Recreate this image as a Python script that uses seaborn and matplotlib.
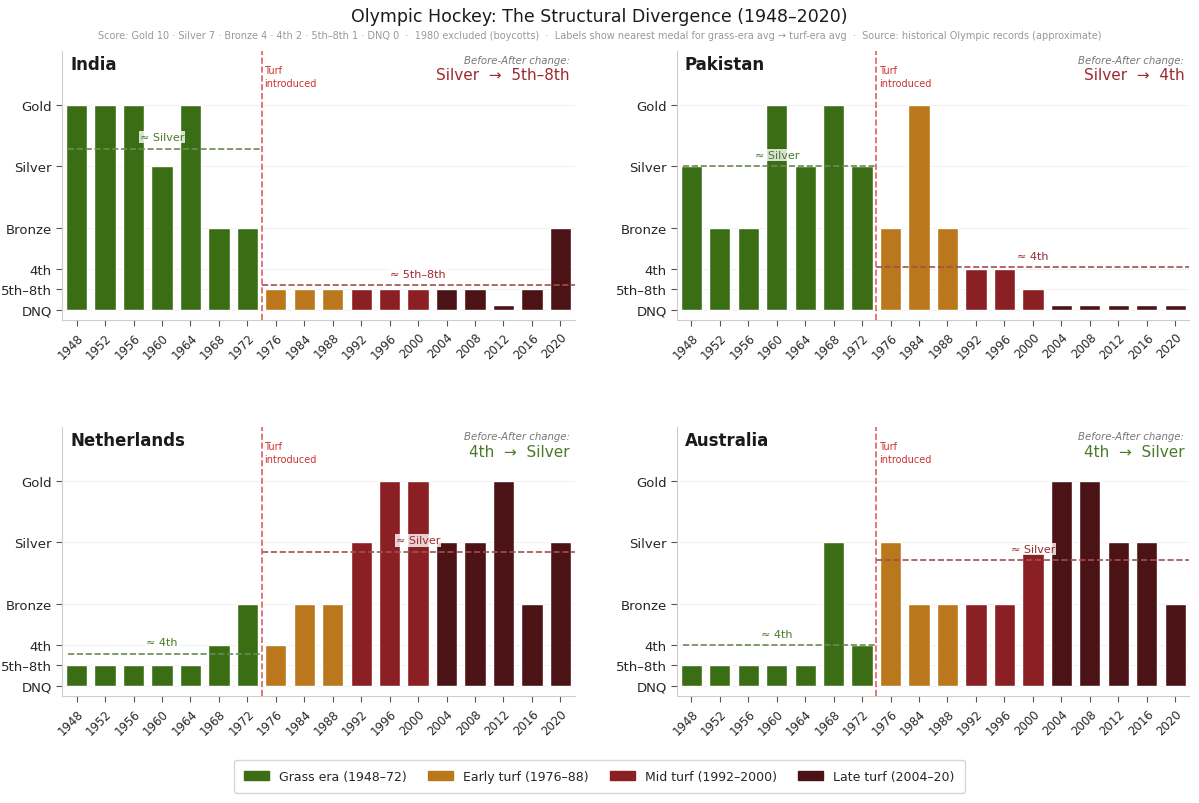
import matplotlib
matplotlib.use('Agg')
import matplotlib.pyplot as plt
import matplotlib.patches as mpatches
import seaborn as sns
import pandas as pd
import numpy as np

years = ['1948', '1952', '1956', '1960', '1964', '1968', '1972',
         '1976', '1984', '1988',
         '1992', '1996', '2000',
         '2004', '2008', '2012', '2016', '2020']
eras = ['Grass era (1948–72)'] * 7 + ['Early turf (1976–88)'] * 3 + \
       ['Mid turf (1992–2000)'] * 3 + ['Late turf (2004–20)'] * 5

india = [10, 10, 10, 7, 10, 4, 4, 1, 1, 1, 1, 1, 1, 1, 1, 0.25, 1, 4]
pakistan = [7, 4, 4, 10, 7, 10, 7, 4, 10, 4, 2, 2, 1, 0.25, 0.25, 0.25, 0.25, 0.25]
netherlands = [1, 1, 1, 1, 1, 2, 4, 2, 4, 4, 7, 10, 10, 7, 7, 10, 4, 7]
australia = [1, 1, 1, 1, 1, 7, 2, 7, 4, 4, 4, 4, 6.5, 10, 10, 7, 7, 4]

countries = ['India', 'Pakistan', 'Netherlands', 'Australia']
scores = [india, pakistan, netherlands, australia]

level_names = ['DNQ', '5th–8th', '4th', 'Bronze', 'Silver', 'Gold']
level_values = [0, 1, 2, 4, 7, 10]

era_colors = {'Grass era (1948–72)': '#3b6e14',
              'Early turf (1976–88)': '#ba771b',
              'Mid turf (1992–2000)': '#8b2024',
              'Late turf (2004–20)': '#4b1315'}

GREEN_TXT = '#4a7a2a'
RED_TXT = '#9b2b2e'


def nearest(v):
    i = int(np.argmin([abs(v - lv) for lv in level_values]))
    return level_names[i]


sns.set_style('white')
fig, axes = plt.subplots(2, 2, figsize=(11.99, 8.04), dpi=100)
fig.subplots_adjust(left=0.052, right=0.992, top=0.935, bottom=0.133,
                    wspace=0.2, hspace=0.4)

for ax, name, vals in zip(axes.flat, countries, scores):
    df = pd.DataFrame({'Year': years, 'Score': vals, 'Era': eras})
    sns.barplot(data=df, x='Year', y='Score', hue='Era', palette=era_colors,
                dodge=False, width=0.75, legend=False, ax=ax, saturation=1)

    ax.set_ylim(-0.5, 12.6)
    ax.set_xlim(-0.5, 17.5)
    ax.set_yticks(level_values)
    ax.set_yticklabels(level_names, fontsize=9.5)
    for lv in level_values:
        ax.axhline(lv, color='#f2f2f2', lw=0.8, zorder=0)
    ax.set_xlabel('')
    ax.set_ylabel('')
    ax.tick_params(axis='x', labelsize=8.5, length=4, color='#555555', bottom=True)
    ax.tick_params(axis='y', length=4, color='#555555', left=True)
    plt.setp(ax.get_xticklabels(), rotation=45, ha='right', rotation_mode='anchor')
    sns.despine(ax=ax)
    for s in ['left', 'bottom']:
        ax.spines[s].set_color('#cccccc')

    # era averages
    grass_avg = np.mean([0 if v < 0.5 else v for v in vals[:7]])
    turf_avg = np.mean([0 if v < 0.5 else v for v in vals[7:]])
    g_lab = nearest(grass_avg)
    t_lab = nearest(turf_avg)
    ax.plot([-0.3, 6.5], [grass_avg, grass_avg], ls='--', color='#6b8a55', lw=1.2, zorder=3)
    ax.plot([6.5, 17.5], [turf_avg, turf_avg], ls='--', color='#a05050', lw=1.2, zorder=3)
    ax.text(3, grass_avg + 0.3, '≈ ' + g_lab, ha='center', va='bottom', fontsize=8,
            color=GREEN_TXT, zorder=4,
            bbox=dict(boxstyle='square,pad=0.1', fc='white', ec='none', alpha=0.8))
    ax.text(12, turf_avg + 0.3, '≈ ' + t_lab, ha='center', va='bottom', fontsize=8,
            color=RED_TXT, zorder=4,
            bbox=dict(boxstyle='square,pad=0.1', fc='white', ec='none', alpha=0.8))

    # turf introduction marker
    ax.axvline(6.5, color='#e06060', ls='--', lw=1.2, zorder=3)
    ax.text(6.6, 11.95, 'Turf\nintroduced', color='#cc3333', fontsize=7,
            ha='left', va='top', linespacing=1.45)

    ax.text(0.015, 0.985, name, transform=ax.transAxes, fontsize=12,
            fontweight='bold', color='#1a1a1a', ha='left', va='top')
    ax.text(0.99, 0.985, 'Before-After change:', transform=ax.transAxes, fontsize=7.3,
            style='italic', color='#777777', ha='right', va='top')
    change_col = GREEN_TXT if turf_avg > grass_avg else RED_TXT
    ax.text(0.99, 0.94, g_lab + '  →  ' + t_lab, transform=ax.transAxes, fontsize=11,
            color=change_col, ha='right', va='top')

fig.suptitle('Olympic Hockey: The Structural Divergence (1948–2020)',
             fontsize=12.5, y=0.99, color='#1a1a1a')
fig.text(0.5, 0.955,
         'Score: Gold 10 · Silver 7 · Bronze 4 · 4th 2 · 5th–8th 1 · DNQ 0  ·  '
         '1980 excluded (boycotts)  ·  Labels show nearest medal for grass-era avg → '
         'turf-era avg  ·  Source: historical Olympic records (approximate)',
         ha='center', va='center', fontsize=7, color='#999999')

handles = [mpatches.Patch(color=c, label=e) for e, c in era_colors.items()]
fig.legend(handles=handles, loc='center', bbox_to_anchor=(0.5, 0.033), ncol=4,
           fontsize=9, frameon=True, edgecolor='#cccccc', handlelength=2.0,
           columnspacing=1.7, borderpad=0.8)

plt.savefig('out.png', dpi=100)
